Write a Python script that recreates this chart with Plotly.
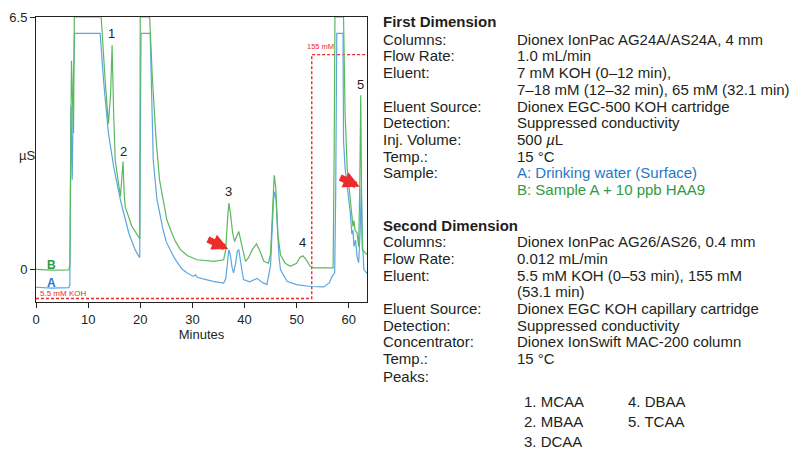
import plotly.graph_objects as go

# ---------------- data ----------------
time_a = [0, 3, 6.3, 6.5, 6.7, 6.95, 7.2, 7.4, 12.3, 13.0, 13.9, 14.9, 16.2, 17.8, 19.0, 19.9, 20.0, 20.15,
          21.9, 22.2, 22.5, 23.2, 23.9, 24.4, 25.0, 26.4, 27.2, 28.0, 29.0, 30.2, 30.6, 31.0, 34.0, 36.0,
          36.4, 36.7, 37.0, 37.3, 37.6, 37.9, 38.3, 38.6, 38.9, 39.3, 39.8, 41.0, 42.4, 43.5, 44.3, 45.0,
          45.3, 45.55, 45.8, 46.05, 46.3, 46.6, 46.9, 48.2, 50.0, 52.6, 55.2, 56.3, 56.8, 57.3, 57.5, 57.7,
          58.9, 59.0, 59.3, 59.7, 60.3, 60.6, 60.8, 61.0, 61.3, 61.6, 61.9, 62.2, 62.4, 62.6, 62.9, 63.6]
signal_a = [-0.47, -0.49, -0.48, -0.40, 4.2, 2.3, 5.0, 6.08, 6.08, 4.8, 3.5, 2.64, 1.78, 0.93, 0.5, 0.29, 3.0, 6.08,
            6.08, 4.0, 2.8, 1.8, 1.27, 1.0, 0.7, 0.32, 0.15, 0.0, -0.1, -0.19, -0.15, -0.22, -0.32, -0.36,
            -0.25, 0.15, 0.50, 0.35, 0.05, -0.1, 0.15, 0.45, 0.50, 0.15, -0.27, -0.33, -0.24, -0.35, -0.40, 0.1,
            0.9, 1.75, 2.0, 1.8, 1.1, 0.35, -0.02, -0.32, -0.40, -0.45, -0.46, -0.35, -0.19, -0.10, 2.0, 6.08,
            6.08, 3.3, 2.6, 2.12, 1.44, 0.9, 1.0, 0.58, 0.75, 0.32, 0.16, 1.0, 2.12, 0.8, -0.02, -0.12]

time_b = [0, 3, 6.3, 6.5, 6.8, 7.0, 7.2, 7.35, 12.5, 13.3, 13.9, 14.3, 14.6, 14.9, 15.2, 16.2, 16.5, 16.7, 16.9,
          17.1, 18.4, 19.7, 19.9, 20.0, 21.8, 22.3, 23.0, 23.7, 24.4, 25.1, 26.0, 26.8, 27.7, 29.0, 30.9,
          34.1, 36.0, 36.4, 36.75, 37.0, 37.3, 37.7, 38.1, 38.5, 38.9, 39.5, 40.2, 40.8, 41.5, 42.3, 43.0,
          43.7, 44.6, 45.0, 45.3, 45.7, 46.0, 46.4, 46.9, 47.8, 48.8, 50.0, 50.6, 51.2, 51.8, 52.6, 53.3,
          57.0, 57.2, 57.35, 59.0, 59.3, 59.7, 60.3, 60.8, 61.0, 61.2, 61.6, 61.9, 62.1, 62.3, 62.45, 62.6,
          63.5]
signal_b = [-0.01, -0.03, -0.02, 0.1, 5.37, 4.0, 3.5, 6.5, 6.5, 4.79, 3.75, 4.5, 5.77, 4.0, 2.81, 1.87, 2.3, 2.77, 2.0,
            1.61, 1.10, 0.80, 0.78, 6.5, 6.5, 5.0, 3.4, 2.3, 1.75, 1.27, 0.95, 0.7, 0.5, 0.35, 0.24,
            0.20, 0.24, 0.5, 1.3, 1.70, 1.45, 0.95, 0.71, 0.85, 0.97, 0.6, 0.20, 0.3, 0.5, 0.65, 0.45,
            0.2, 0.15, 0.4, 1.3, 2.42, 2.1, 0.9, 0.37, 0.15, 0.07, 0.15, 0.3, 0.34, 0.25, 0.07, 0.03,
            0.03, 3.0, 6.5, 6.5, 4.0, 2.6, 1.7, 1.1, 1.25, 1.0, 0.93, 0.58, 2.0, 4.48, 2.0, 0.5,
            0.37]

gradient_time = [0, 52.9, 52.9, 63.5]
gradient_level = [-0.76, -0.76, 5.53, 5.53]

peak_numbers = ["1", "2", "3", "4", "5"]
peak_x = [14.5, 16.8, 36.9, 51.1, 62.3]
peak_y = [6.08, 3.02, 1.99, 0.68, 4.76]

x_ticks = [0, 10, 20, 30, 40, 50, 60]
y_ticks = [0, 6.5]

first_title = "First Dimension"
first_labels = ["Columns:", "Flow Rate:", "Eluent:", "", "Eluent Source:", "Detection:",
                "Inj. Volume:", "Temp.:", "Sample:", ""]
first_values = ["Dionex IonPac AG24A/AS24A, 4 mm", "1.0 mL/min", "7 mM KOH (0–12 min),",
                "7–18 mM (12–32 min), 65 mM (32.1 min)", "Dionex EGC-500 KOH cartridge",
                "Suppressed conductivity", "500 <i>µ</i>L", "15 °C",
                "A: Drinking water (Surface)", "B: Sample A + 10 ppb HAA9"]
second_title = "Second Dimension"
second_labels = ["Columns:", "Flow Rate:", "Eluent:", "", "Eluent Source:", "Detection:",
                 "Concentrator:", "Temp.:", "Peaks:"]
second_values = ["Dionex IonPac AG26/AS26, 0.4 mm", "0.012 mL/min", "5.5 mM KOH (0–53 min), 155 mM",
                 "(53.1 min)", "Dionex EGC KOH capillary cartridge", "Suppressed conductivity",
                 "Dionex IonSwift MAC-200 column", "15 °C", ""]
peak_names_col1 = ["1. MCAA", "2. MBAA", "3. DCAA"]
peak_names_col2 = ["4. DBAA", "5. TCAA"]

# ---------------- styling ----------------
BLUE = "#5aa7e0"
GREEN = "#5cb85f"
BLUE_TXT = "#1f78c8"
GREEN_TXT = "#2e9a45"
RED = "#ee2b2b"
TXT = "#231f20"
FONT = "Liberation Sans, Arial, Helvetica, sans-serif"

W, H = 801, 449
ML, MR, MT, MB = 36, 434, 17, 147
PW, PH = W - ML - MR, H - MT - MB


def px(x):
    return (x - ML) / PW


def py(y):
    return (H - MB - y) / PH


fig = go.Figure()
fig.add_trace(go.Scatter(x=gradient_time, y=gradient_level, mode="lines",
                         line=dict(color=RED, width=1.4, dash="3px,2px"), hoverinfo="skip"))
fig.add_trace(go.Scatter(x=time_a, y=signal_a, mode="lines", line=dict(color=BLUE, width=1.2)))
fig.add_trace(go.Scatter(x=time_b, y=signal_b, mode="lines", line=dict(color=GREEN, width=1.2)))

ann = []
for t, x, y in zip(peak_numbers, peak_x, peak_y):
    ann.append(dict(x=x, y=y, xref="x", yref="y", text=t, showarrow=False,
                    font=dict(size=13, color=TXT, family=FONT)))
ann.append(dict(x=2.9, y=0.11, xref="x", yref="y", text="<b>B</b>", showarrow=False,
                font=dict(size=12, color=GREEN_TXT, family=FONT)))
ann.append(dict(x=2.9, y=-0.36, xref="x", yref="y", text="<b>A</b>", showarrow=False,
                font=dict(size=12, color=BLUE_TXT, family=FONT)))
ann.append(dict(x=0.3, y=-0.62, xref="x", yref="y", text="5.5 mM KOH", showarrow=False,
                xanchor="left", font=dict(size=8, color=RED, family=FONT)))
ann.append(dict(x=51.7, y=5.74, xref="x", yref="y", text="155 mM", showarrow=False,
                xanchor="left", font=dict(size=7.5, color=RED, family=FONT)))
# red arrows
ann.append(dict(x=36.9, y=0.52, xref="x", yref="y", ax=-22, ay=-10, showarrow=True, text="",
                arrowhead=2, arrowsize=0.5, arrowwidth=6.5, arrowcolor=RED, standoff=0))
ann.append(dict(x=62.1, y=2.12, xref="x", yref="y", ax=-21, ay=-10, showarrow=True, text="",
                arrowhead=2, arrowsize=0.5, arrowwidth=6.5, arrowcolor=RED, standoff=0))
# y label
ann.append(dict(x=px(17), y=py(155), xref="paper", yref="paper", text="µS", showarrow=False,
                font=dict(size=13, color=TXT, family=FONT)))

# right-hand text panel
LX, VX = 381.5, 515
FS = 15
STEP = 16.7


def txt(x, y, s, color=TXT, bold=False):
    if not s:
        return
    ann.append(dict(x=px(x), y=py(y), xref="paper", yref="paper", text=("<b>%s</b>" % s) if bold else s,
                    showarrow=False, xanchor="left", yanchor="middle",
                    font=dict(size=FS, color=color, family=FONT)))


txt(LX, 21.7, first_title, bold=True)
for i, (lab, val) in enumerate(zip(first_labels, first_values)):
    y = 39.3 + i * STEP
    txt(LX, y, lab)
    col = TXT
    if val.startswith("A:"):
        col = BLUE_TXT
    elif val.startswith("B:"):
        col = GREEN_TXT
    txt(VX, y, val, color=col)

txt(LX, 225, second_title, bold=True)
for i, (lab, val) in enumerate(zip(second_labels, second_values)):
    y = 241.7 + i * STEP
    if lab == "Peaks:":
        y += 1.5
    txt(LX, y, lab)
    txt(VX, y, val)
for i, s in enumerate(peak_names_col1):
    txt(521.5, 401.7 + i * 20, s)
for i, s in enumerate(peak_names_col2):
    txt(625.5, 401.7 + i * 20, s)

fig.update_layout(
    width=W, height=H, margin=dict(l=ML, r=MR, t=MT, b=MB, pad=0, autoexpand=False),
    paper_bgcolor="white", plot_bgcolor="white", showlegend=False,
    font=dict(family=FONT, size=13, color=TXT),
    annotations=ann,
    xaxis=dict(range=[0, 63.5], tickvals=x_ticks, ticks="outside", ticklen=5, tickcolor="#222",
               showline=True, linecolor="#222", linewidth=1, mirror=True, showgrid=False, zeroline=False,
               title=dict(text="Minutes", font=dict(size=13, color=TXT), standoff=2),
               tickfont=dict(size=13, color=TXT), automargin=False),
    yaxis=dict(range=[-0.85, 6.5], tickvals=y_ticks, ticktext=["0", "6.5"], ticks="outside", ticklen=5,
               tickcolor="#222", showline=True, linecolor="#222", linewidth=1, mirror=True,
               showgrid=False, zeroline=False, tickfont=dict(size=13, color=TXT), automargin=False),
)

fig.write_html("out.html", config={"displayModeBar": False},
               post_script="document.body.style.margin='0px';document.body.style.overflow='hidden';")
